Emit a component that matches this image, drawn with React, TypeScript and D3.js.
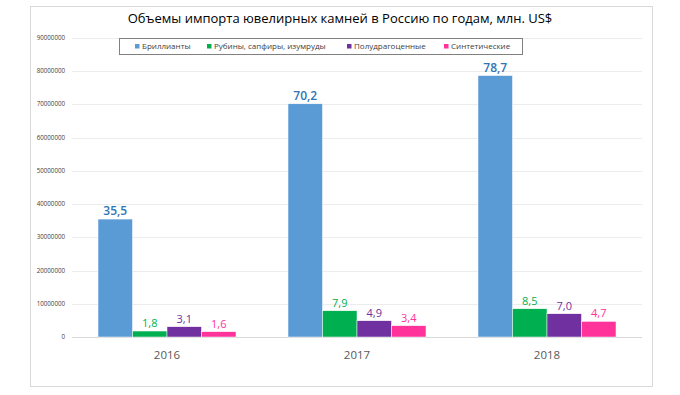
import React from "react";
import { scaleBand, scaleLinear, range } from "d3";

const years = ["2016", "2017", "2018"];
const seriesNames = ["Бриллианты", "Рубины, сапфиры, изумруды", "Полудрагоценные", "Синтетические"];
const diamonds = [35.5, 70.2, 78.7];
const rubies = [1.8, 7.9, 8.5];
const semiPrecious = [3.1, 4.9, 7.0];
const synthetic = [1.6, 3.4, 4.7];
const yTicks = [0, 10000000, 20000000, 30000000, 40000000, 50000000, 60000000, 70000000, 80000000, 90000000];

const colors = ["#5B9BD5", "#00B050", "#7030A0", "#FF3399"];
const labelColors = ["#2E75B6", "#00B050", "#7030A0", "#FF3399"];
const allSeries = [diamonds, rubies, semiPrecious, synthetic];

const W = 680;
const H = 395;
const font = "'Open Sans', 'Noto Sans', sans-serif";

export default function App() {
  const x = scaleBand().domain(years).range([72, 642]).paddingInner(0).paddingOuter(0);
  const y = scaleLinear().domain([0, 90000000]).range([337, 38]);
  const inner = scaleBand().domain(range(4).map(String)).range([26, x.bandwidth() - 26]);

  // legend item x positions (marker left edge)
  const legendX = [135, 207, 347, 444];

  return (
    <svg width={W} height={H} style={{ position: "absolute", left: 0, top: 0, fontFamily: font }}>
      <rect x={0} y={0} width={W} height={H} fill="#fff" />
      <rect x={30.5} y={6.5} width={622} height={380} fill="#fff" stroke="#d9d9d9" />
      <text x={340} y={23} textAnchor="middle" fontSize={13} fill="#000">
        Объемы импорта ювелирных камней в Россию по годам, млн. US$
      </text>

      {yTicks.map((t) => (
        <g key={t}>
          <line x1={72} x2={642} y1={Math.round(y(t)) + 0.5} y2={Math.round(y(t)) + 0.5}
            stroke={t === 0 ? "#d9d9d9" : "#ececec"} strokeWidth={1} />
          <text x={65} y={y(t) + 2} textAnchor="end" fontSize={6.2} fill="#404040">{t}</text>
        </g>
      ))}

      {years.map((yr, i) => (
        <g key={yr} transform={`translate(${x(yr)},0)`}>
          {allSeries.map((s, k) => {
            const bx = inner(String(k)) as number;
            const v = s[i] * 1000000;
            return (
              <g key={k}>
                <rect x={bx} y={y(v)} width={inner.bandwidth()} height={y(0) - y(v)}
                  fill={colors[k]} stroke="#fff" strokeWidth={0.5} />
                <text x={bx + inner.bandwidth() / 2} y={y(v) - 4} textAnchor="middle"
                  fontSize={k === 0 ? 12 : 11} fontWeight={k === 0 ? 600 : 500} fill={labelColors[k]}>
                  {s[i].toFixed(1).replace(".", ",")}
                </text>
              </g>
            );
          })}
          <text x={x.bandwidth() / 2} y={359} textAnchor="middle" fontSize={11.5} fill="#595959">{yr}</text>
        </g>
      ))}

      <rect x={119.5} y={38.5} width={403} height={16} fill="#fff" stroke="#808080" strokeWidth={1} />
      {seriesNames.map((n, k) => (
        <g key={n}>
          <rect x={legendX[k]} y={44} width={4.5} height={4.5} fill={colors[k]} />
          <text x={legendX[k] + 7} y={49.2} fontSize={8} fill="#404040">{n}</text>
        </g>
      ))}
    </svg>
  );
}
